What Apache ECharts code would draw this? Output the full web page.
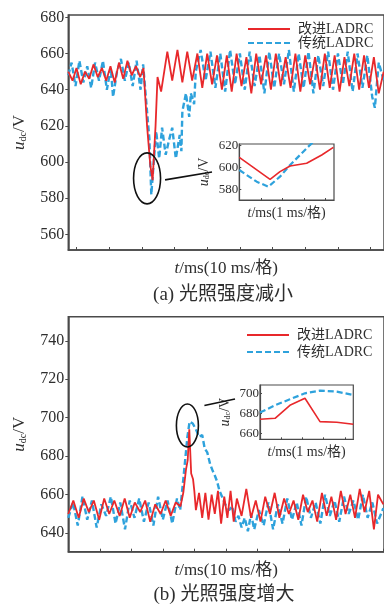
<!DOCTYPE html>
<html>
<head>
<meta charset="utf-8">
<script src="https://cdn.jsdelivr.net/npm/echarts@6/dist/echarts.min.js"></script>
<style>
html, body { margin: 0; padding: 0; background: #fff; }
#chart { width: 384px; height: 604px; }
</style>
</head>
<body>
<div id="chart"></div>
<script>
// ---- data ----
const seriesNames = ['改进LADRC', '传统LADRC'];

// (a) irradiance drop, main window (t in ms, u in V)
const tRedA = [-2.5,-1.2,0,1.3,2.6,3.9,5.2,6.5,7.8,9.1,10.4,11.7,13,14.3,15.6,16.9,18.2,19.5,20.5,21.6,22.6,23.3,24.2,24.8,25.9,27.8,29.3,30.9,32.4,33.9,35.4,37,38.5,40,41.5,43,44.5,46,47.5,49,50.5,52,53.5,55,56.5,58,59.5,61,62.5,64,65.5,67,68.5,70,71.5,73,74.5,76,77.5,79,80.5,82,83.5,85,86.5,88,89.5,91,92.5,94];
const uRedA = [650,645,652,643,650,646,654,647,652,645,653,644,655,646,656,648,653,647,652,620,598,590,620,647,639,661,645,662,644,661,645,660,641,660,643,659,640,659,639,660,642,658,638,660,643,659,640,660,642,658,641,660,639,659,643,658,640,660,641,659,639,658,642,660,640,659,641,658,638,650];
const tBlueA = [-2.5,-1.5,-0.3,0.9,2.1,3.3,4.5,5.7,6.9,8.1,9.3,10.5,11.2,12.4,13.6,14.8,16,17.2,18.4,19.6,20.4,21.5,22.3,22.9,23.9,24.4,25.3,26.2,27.3,28.3,29.3,30.4,31.6,32.1,32.4,33.5,34.5,35,36,36.5,38,39.5,41,42.5,44,45.5,47,48.5,50,51.5,53,54.5,56,57.5,59,60.5,62,63.5,65,66.5,68,69.5,71,72.5,74,75.5,77,78.5,80,81.5,83,84.5,86,87.5,89,90.5,91.3,92.5,94];
const uBlueA = [648,655,642,656,644,653,641,655,645,656,640,652,636,650,657,645,655,642,656,640,654,630,613,582,606,617,602,619,604,612,619,602,615,606,628,638,625,638,632,650,662,645,661,641,660,639,662,643,660,640,661,642,659,638,661,641,660,643,662,639,660,641,661,638,659,642,661,640,660,643,661,639,660,641,659,636,630,655,645];

// (a) zoomed window (1 ms per division)
const tRedZoomA = [0,1.43,1.89,2.36,3.13,3.83,4.37];
const uRedZoomA = [609.4,589.2,596.2,601.4,603.9,611.5,618.5];
const tBlueZoomA = [0,0.81,1.35,1.89,2.36,2.82,3.28,3.8,4.4];
const uBlueZoomA = [597.7,587,582.4,591.6,602.3,611.5,620.6,630,638];

// (b) irradiance rise, main window
const tRedB = [0,1.6,3.3,4.9,6.5,8.1,9.8,11.4,13,14.6,16.3,17.9,19.5,21.1,22.8,24.4,26,27.6,29.3,30.9,32.5,34.1,35.6,36.5,37.35,37.9,38.4,39,39.6,40,40.5,41.5,42.5,43.5,44.5,45.5,46.5,47.5,48.5,49.5,50.5,51.5,52.5,53.5,55,56.5,58,59.5,61,62.5,64,65.5,67,68.5,70,71.5,73,74.5,76,77.5,79,80.5,82,83.5,85,86.5,88,89.5,91,92.5,94,95.5,97,98.3,100];
const uRedB = [650,657,648,658,651,657,647,658,650,657,649,658,648,656,651,657,646,655,650,657,649,656,654,661,673,678,694,671,668,662,652,661,648,661,647,660,650,662,645,659,648,662,646,658,649,663,648,657,646,659,650,661,648,658,650,657,647,660,651,657,646,661,649,659,647,662,650,660,648,663,651,662,642,660,655];
const tBlueB = [0,1.5,3,4.5,6,7.5,9,10.5,12,13.5,15,16.5,18,19.5,21,22.5,24,25.5,27,28.5,30,31.5,33,34.5,35.5,36.5,37.8,38.5,39.5,40.5,41.5,42.5,43.3,44.1,45,45.7,46.5,47.2,48,48.8,49.8,51,52,53.1,54,55,56,57,58,59,60.5,62,63.5,65,66.5,68,69.5,71,72.5,74,75.5,77,78.5,80,81.5,83,84.5,86,87.5,89,90.5,92,93.5,95,96.5,98,100];
const uBlueB = [648,656,644,659,647,657,643,655,649,659,645,656,642,657,648,658,646,656,644,659,647,657,645,658,652,668,690,698,697,694,690,691,684,682,676,673,670,667,662,659,655,652,654,646,649,643,648,641,650,642,652,644,656,642,655,645,658,647,656,644,659,648,656,645,660,649,657,646,659,650,657,647,660,648,656,645,653];

// (b) zoomed window
const tZoomB = [0,0.71,1.41,2.12,2.83,3.62,4.4];
const uRedZoomB = [674,675,688,695,671.7,671,669];
const uBlueZoomB = [680.7,688,694,700,702.7,701.7,698.3];

// axis ticks and labels
const xTicksA = [0,10,20,30,40,50,60,70,80,90];
const xTicksB = [10,20,30,40,50,60,70,80,90,100];
const yLabelsA = [560,580,600,620,640,660,680];
const yLabelsB = [640,660,680,700,720,740];
const yLabelsZoomA = [580,600,620];
const yLabelsZoomB = [660,680,700];
const zoomTicks = [1,2,3,4];

// ---- styling ----
const FONT = '"Liberation Serif","Times New Roman","Noto Sans CJK SC",serif';
const INK = '#2e2e2e';
const FRAME = '#4a4a4a';
const RED = '#e8282b';
const BLUE = '#2ea2dc';

const pairs = (t, u) => t.map((x, i) => [x, u[i]]);

const uName = {
  name: '{u|u}{d|dc}{v|/V}',
  rich: {
    u: { fontFamily: FONT, fontStyle: 'italic', fontSize: 17, color: INK },
    d: { fontFamily: FONT, fontSize: 10, color: INK, padding: [8, 0, 0, 0] },
    v: { fontFamily: FONT, fontSize: 17, color: INK }
  }
};
const uNameSmall = {
  name: '{u|u}{d|dc}{v|/V}',
  rich: {
    u: { fontFamily: FONT, fontStyle: 'italic', fontSize: 14, color: INK },
    d: { fontFamily: FONT, fontSize: 8, color: INK, padding: [6, 0, 0, 0] },
    v: { fontFamily: FONT, fontSize: 14, color: INK }
  }
};
const tName = (txt, size) => ({
  name: '{i|t}{r|' + txt + '}',
  rich: {
    i: { fontFamily: FONT, fontStyle: 'italic', fontSize: size, color: INK },
    r: { fontFamily: FONT, fontSize: size, color: INK }
  }
});

function mainX(min, max, ticks, nm) {
  return {
    type: 'value', min: min, max: max,
    axisLine: { show: true, onZero: false, lineStyle: { color: FRAME, width: 1.5 } },
    axisTick: { show: true, inside: true, length: 3, customValues: ticks, lineStyle: { color: FRAME } },
    axisLabel: { show: false },
    splitLine: { show: false },
    name: nm.name, nameLocation: 'middle', nameGap: 10,
    nameTextStyle: { rich: nm.rich }
  };
}
function mainY(min, max, labels) {
  return {
    type: 'value', min: min, max: max,
    axisLine: { show: true, onZero: false, lineStyle: { color: FRAME, width: 1.5 } },
    axisTick: { show: true, inside: false, length: 3, customValues: labels, lineStyle: { color: FRAME } },
    axisLabel: { customValues: labels, margin: 4, fontFamily: FONT, fontSize: 16, color: INK },
    splitLine: { show: false },
    name: uName.name, nameLocation: 'middle', nameRotate: 90, nameGap: 40,
    nameTextStyle: { rich: uName.rich }
  };
}
function zoomX(nm) {
  return {
    type: 'value', min: 0, max: 4.4,
    axisLine: { show: true, onZero: false, lineStyle: { color: FRAME, width: 1.2 } },
    axisTick: { show: true, inside: true, length: 2, customValues: zoomTicks, lineStyle: { color: FRAME } },
    axisLabel: { show: false },
    splitLine: { show: false },
    name: nm.name, nameLocation: 'middle', nameGap: 6,
    nameTextStyle: { rich: nm.rich }
  };
}
function zoomY(min, max, labels, gap) {
  return {
    type: 'value', min: min, max: max,
    axisLine: { show: true, onZero: false, lineStyle: { color: FRAME, width: 1.2 } },
    axisTick: { show: true, inside: true, length: 2, customValues: labels, lineStyle: { color: FRAME } },
    axisLabel: { customValues: labels, margin: 1, fontFamily: FONT, fontSize: 13, color: INK },
    splitLine: { show: false },
    name: uNameSmall.name, nameLocation: 'middle', nameRotate: 90, nameGap: gap,
    nameTextStyle: { rich: uNameSmall.rich }
  };
}
function redLine(data, xi, w) {
  return { name: seriesNames[0], type: 'line', xAxisIndex: xi, yAxisIndex: xi, data: data,
    symbol: 'none', animation: false, z: 3,
    lineStyle: { color: RED, width: w }, itemStyle: { color: RED } };
}
function blueLine(data, xi, w) {
  return { name: seriesNames[1], type: 'line', xAxisIndex: xi, yAxisIndex: xi, data: data,
    symbol: 'none', animation: false, z: 2,
    lineStyle: { color: BLUE, width: w, type: [6, 3] }, itemStyle: { color: BLUE } };
}
const legendBase = {
  orient: 'vertical', itemWidth: 42, itemHeight: 12,
  data: seriesNames, selectedMode: false,
  itemStyle: { opacity: 0 },
  textStyle: { fontFamily: FONT, fontSize: 14, color: INK, padding: [0, 0, 0, 3] }
};

const chart = echarts.init(document.getElementById('chart'), null, { renderer: 'canvas' });
chart.setOption({
  backgroundColor: '#fff',
  animation: false,
  grid: [
    { left: 68.3, top: 15, width: 318, height: 235, show: true, borderColor: FRAME, borderWidth: 1.5 },
    { left: 239.3, top: 144, width: 94.7, height: 56, show: true, borderColor: FRAME, borderWidth: 1.2, backgroundColor: '#fff' },
    { left: 68.3, top: 316.7, width: 318, height: 235, show: true, borderColor: FRAME, borderWidth: 1.5 },
    { left: 260, top: 385, width: 93.3, height: 54.3, show: true, borderColor: FRAME, borderWidth: 1.2, backgroundColor: '#fff' }
  ],
  xAxis: [
    Object.assign(mainX(-2.5, 94.1, xTicksA, tName('/ms(10 ms/格)', 17)), { gridIndex: 0 }),
    Object.assign(zoomX(tName('/ms(1 ms/格)', 14)), { gridIndex: 1 }),
    Object.assign(mainX(0, 100.2, xTicksB, tName('/ms(10 ms/格)', 17)), { gridIndex: 2 }),
    Object.assign(zoomX(tName('/ms(1 ms/格)', 14)), { gridIndex: 3 })
  ],
  yAxis: [
    Object.assign(mainY(551.4, 681.3, yLabelsA), { gridIndex: 0 }),
    Object.assign(zoomY(570.2, 621.6, yLabelsZoomA, 28), { gridIndex: 1 }),
    Object.assign(mainY(630.4, 752.5, yLabelsB), { gridIndex: 2 }),
    Object.assign(zoomY(654, 708.3, yLabelsZoomB, 28), { gridIndex: 3 })
  ],
  legend: [
    Object.assign({}, legendBase, { left: 242, top: 17, itemGap: 0 }),
    Object.assign({}, legendBase, { left: 241, top: 323, itemGap: 3 })
  ],
  series: [
    blueLine(pairs(tBlueA, uBlueA), 0, 2.4),
    redLine(pairs(tRedA, uRedA), 0, 1.8),
    blueLine(pairs(tBlueZoomA, uBlueZoomA), 1, 2.2),
    redLine(pairs(tRedZoomA, uRedZoomA), 1, 1.6),
    blueLine(pairs(tBlueB, uBlueB), 2, 2.4),
    redLine(pairs(tRedB, uRedB), 2, 1.8),
    blueLine(pairs(tZoomB, uBlueZoomB), 3, 2.2),
    redLine(pairs(tZoomB, uRedZoomB), 3, 1.6)
  ]
});

// circled regions and leader lines into the zoomed windows
const ringA = chart.convertToPixel({ gridIndex: 0 }, [21.6, 591]);
const ringB = chart.convertToPixel({ gridIndex: 2 }, [37.8, 696]);
chart.setOption({
  graphic: [
    { type: 'ellipse', shape: { cx: ringA[0], cy: ringA[1], rx: 13.5, ry: 25.5 },
      style: { fill: 'none', stroke: '#111', lineWidth: 1.6 }, z: 10 },
    { type: 'line', shape: { x1: ringA[0] + 18, y1: ringA[1] + 1.5, x2: 212, y2: 172 },
      style: { stroke: '#111', lineWidth: 1.6 }, z: 10 },
    { type: 'ellipse', shape: { cx: ringB[0], cy: ringB[1], rx: 11, ry: 21.5 },
      style: { fill: 'none', stroke: '#111', lineWidth: 1.6 }, z: 10 },
    { type: 'line', shape: { x1: ringB[0] + 17, y1: ringB[1] - 20, x2: 235, y2: 399 },
      style: { stroke: '#111', lineWidth: 1.6 }, z: 10 },
    { type: 'text', x: 223, y: 295,
      style: { text: '(a) 光照强度减小', fontFamily: FONT, fontSize: 19, fill: INK, align: 'center', verticalAlign: 'middle' } },
    { type: 'text', x: 224, y: 595,
      style: { text: '(b) 光照强度增大', fontFamily: FONT, fontSize: 19, fill: INK, align: 'center', verticalAlign: 'middle' } }
  ]
});
</script>
</body>
</html>
